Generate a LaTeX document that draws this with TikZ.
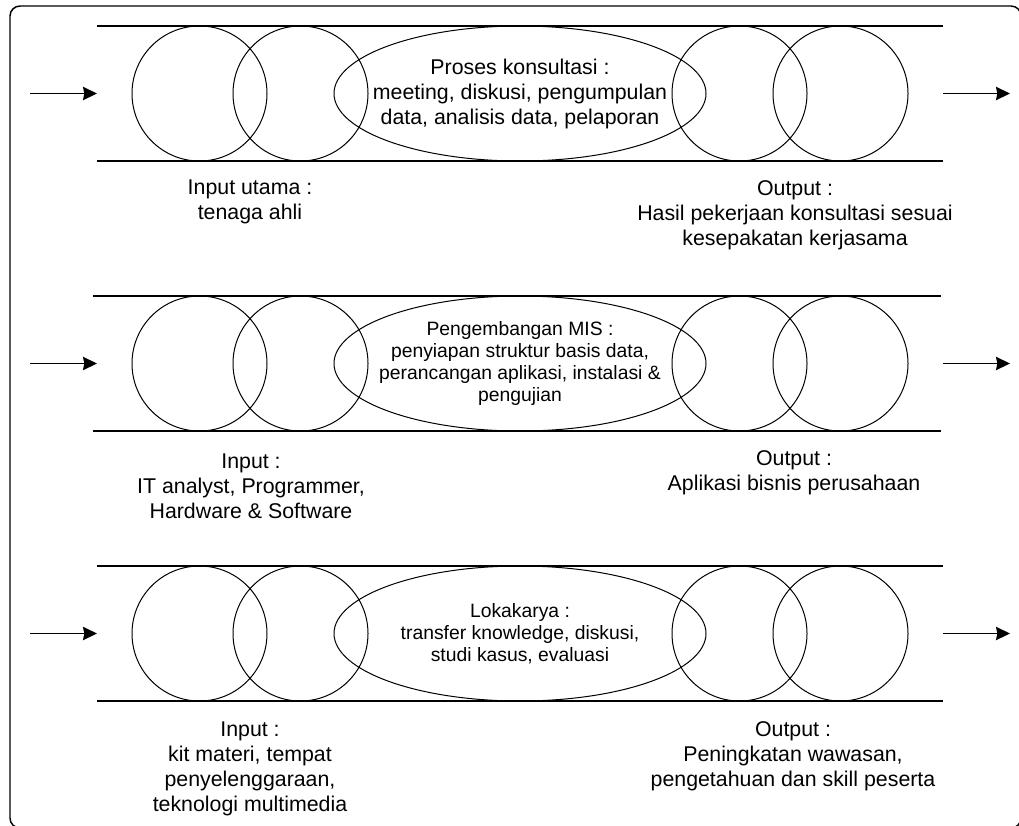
\documentclass[tikz,border=0pt]{standalone}
\usepackage{fontspec}
\setmainfont{Liberation Sans}
\usetikzlibrary{arrows.meta,positioning,shapes.geometric}

\begin{document}
\begin{tikzpicture}[
  x=0.75pt, y=-0.75pt,
  node distance=-25.5pt,
  every node/.style={align=center, inner sep=0pt, outer sep=0pt},
  ring/.style={draw, circle, line width=0.75pt, minimum size=101.25pt},
  proc/.style={draw, ellipse, line width=0.75pt, minimum width=279pt, minimum height=101.25pt},
  pipe/.style={line width=2pt},
  lbl/.style={font=\fontsize{16}{18.75}\selectfont},
  ptext/.style={font=\fontsize{14.5}{16.5}\selectfont},
  flow/.style={-{Stealth[length=10.5pt,width=10pt,inset=1pt]}, line width=1.1pt},
  outerbox/.style={draw, line width=1.1pt, rounded corners=7.5pt}
]
\useasboundingbox (0,0) rectangle (1019,825);
\draw[outerbox] (10,6) rectangle (1021,828);

% baris 1 : konsultasi
\node[ring] (a1) at (199.5,93.5) {};
\node[ring, right=of a1] (a2) {};
\node[proc, right=of a2] (a3) {};
\node[ring, right=of a3] (a4) {};
\node[ring, right=of a4] (a5) {};
\node[lbl] (a3t) at (a3) {Proses konsultasi :\\meeting, diskusi, pengumpulan\\data, analisis data, pelaporan};
\coordinate[left=76.5pt of a1] (a0);
\coordinate[left=26.25pt of a1] (ain);
\coordinate[right=26.25pt of a5] (aout);
\coordinate[right=76.5pt of a5] (a6);
\draw[pipe] (ain |- a1.north) -- (aout |- a1.north);
\draw[pipe] (ain |- a1.south) -- (aout |- a1.south);
\draw[flow] (a0) -- (ain);
\draw[flow] (aout) -- (a6);
\node[lbl] (ain1) at (250,202) {Input utama :\\tenaga ahli};
\node[lbl] (aout1) at (795,215) {Output :\\Hasil pekerjaan konsultasi sesuai\\kesepakatan kerjasama};

% baris 2 : MIS
\node[ring] (b1) at (199.5,363.5) {};
\node[ring, right=of b1] (b2) {};
\node[proc, right=of b2] (b3) {};
\node[ring, right=of b3] (b4) {};
\node[ring, right=of b4] (b5) {};
\node[ptext] (b3t) at (b3) {Pengembangan MIS :\\penyiapan struktur basis data,\\perancangan aplikasi, instalasi \&\\pengujian};
\coordinate[left=76.5pt of b1] (b0);
\coordinate[left=26.25pt of b1] (bin);
\coordinate[right=26.25pt of b5] (bout);
\coordinate[right=76.5pt of b5] (b6);
\draw[pipe] ([xshift=-3pt]bin |- b1.north) -- ([xshift=-1.5pt]bout |- b1.north);
\draw[pipe] ([xshift=-3pt]bin |- b1.south) -- ([xshift=-1.5pt]bout |- b1.south);
\draw[flow] (b0) -- (bin);
\draw[flow] (bout) -- (b6);
\node[lbl] (bin1) at (251,486) {Input :\\IT analyst, Programmer,\\Hardware \& Software};
\node[lbl] (bout1) at (794,473) {Output :\\Aplikasi bisnis perusahaan};

% baris 3 : lokakarya
\node[ring] (c1) at (199.5,633.5) {};
\node[ring, right=of c1] (c2) {};
\node[proc, right=of c2] (c3) {};
\node[ring, right=of c3] (c4) {};
\node[ring, right=of c4] (c5) {};
\node[ptext] (c3t) at (c3) {Lokakarya :\\transfer knowledge, diskusi,\\studi kasus, evaluasi};
\coordinate[left=76.5pt of c1] (c0);
\coordinate[left=26.25pt of c1] (cin);
\coordinate[right=26.25pt of c5] (cout);
\coordinate[right=76.5pt of c5] (c6);
\draw[pipe] (cin |- c1.north) -- (cout |- c1.north);
\draw[pipe] (cin |- c1.south) -- (cout |- c1.south);
\draw[flow] (c0) -- (cin);
\draw[flow] (cout) -- (c6);
\node[lbl] (cin1) at (250,769) {Input :\\kit materi, tempat\\penyelenggaraan,\\teknologi multimedia};
\node[lbl] (cout1) at (793,756) {Output :\\Peningkatan wawasan,\\pengetahuan dan skill peserta};
\end{tikzpicture}
\end{document}
